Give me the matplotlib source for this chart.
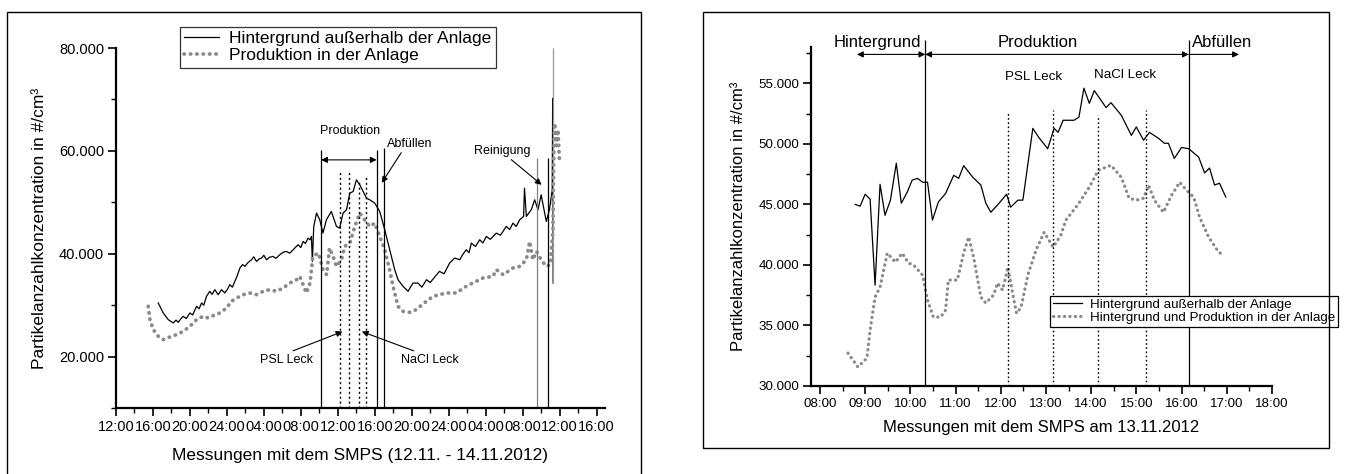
"""SMPS particle number concentration: two-day overview and production day detail."""
import matplotlib

matplotlib.use("Agg")

import matplotlib.pyplot as plt  # noqa: E402
from matplotlib.patches import Rectangle  # noqa: E402
from matplotlib.ticker import FixedLocator, MultipleLocator, FuncFormatter  # noqa: E402

plt.rcParams["font.family"] = ["Liberation Sans", "DejaVu Sans"]

# --------------------------------------------------------------------------- #
# Data, left panel: hours since 12.11.2012 12:00
# --------------------------------------------------------------------------- #
left_bg_hours = [
    4.57, 5.12, 5.66, 6.2, 6.5, 6.74, 7.0, 7.28, 7.6, 8.0, 8.3, 8.72, 9.0, 9.26,
    9.5, 9.8, 10.15, 10.4, 10.7, 11.06, 11.42, 11.78, 12.1, 12.32, 12.6, 12.86,
    13.1, 13.41, 13.7, 13.95, 14.3, 14.67, 14.9, 15.21, 15.5, 15.75, 16.0, 16.29,
    16.6, 17.0, 17.3, 17.73, 18.1, 18.45, 18.8, 19.17, 19.45, 19.71, 20.0, 20.25,
    20.5, 20.79, 21.0, 21.15, 21.25, 21.4, 21.7, 22.05, 22.4, 22.77, 23.3, 23.86,
    24.2, 24.57, 24.94, 25.3, 25.66, 26.02, 26.38, 26.74, 27.1, 27.46, 28.0,
    28.54, 29.08, 29.62, 30.16, 30.52, 31.06, 31.6, 32.14, 32.68, 33.1, 33.6,
    34.0, 34.5, 35.0, 35.5, 36.1, 36.65, 37.2, 37.5, 37.9, 38.2, 38.45, 38.9,
    39.35, 39.7, 40.07, 40.5, 41.15, 41.6, 42.23, 42.6, 42.95, 43.3, 43.68,
    44.1, 44.2, 44.4, 44.93, 45.3, 45.66, 46.0, 46.56, 46.9, 47.2, 47.25, 47.3,
]
left_bg_values = [
    30430, 28480, 27180, 26540, 27100, 26660, 27300, 27830, 27400, 28480, 28100,
    29770, 29300, 30430, 30000, 31720, 32690, 32100, 33010, 32040, 33010, 32370,
    33200, 33980, 33500, 34630, 35600, 37220, 37900, 37540, 38300, 38830, 39400,
    38510, 39000, 39160, 39700, 38830, 39300, 39480, 39100, 39810, 40300, 40450,
    40100, 40780, 41300, 41750, 41200, 42390, 42000, 43040, 42700, 43370, 38510,
    45300, 47900, 46600, 44020, 46600, 48220, 45310, 44990, 47900, 48540, 51780,
    52100, 54370, 53400, 52100, 50820, 50490, 49840, 48220, 44660, 40780, 36900,
    34950, 33660, 32690, 34300, 34300, 33500, 34950, 34400, 35500, 36570, 36100,
    38190, 39160, 38830, 39800, 40780, 40200, 42070, 41400, 42720, 42100, 43370,
    42800, 44010, 43600, 45310, 44700, 45950, 45300, 46600, 47250, 52750, 47250,
    48540, 50490, 48540, 51460, 46280, 48540, 52430, 70230, 34300,
]

left_prod_hours = [
    3.49, 3.68, 4.04, 4.58, 5.12, 5.84, 6.56, 7.28, 8.0, 8.72, 9.43, 9.98, 10.52,
    11.24, 11.97, 12.5, 13.05, 13.77, 14.49, 15.21, 15.93, 16.65, 17.37, 18.09,
    18.81, 19.53, 19.9, 20.6, 21.0, 21.3, 21.9, 22.4, 22.8, 23.1, 23.5, 23.86,
    24.4, 24.75, 25.3, 25.84, 26.38, 26.9, 27.46, 28.0, 28.54, 29.08, 29.6,
    29.98, 30.52, 31.06, 31.78, 32.5, 33.2, 34.3, 35.75, 36.8, 37.9, 38.6, 39.7,
    40.8, 41.15, 41.9, 42.95, 43.7, 44.4, 44.76, 45.1, 45.5, 46.0, 46.56, 46.99,
    47.28, 47.35, 47.46, 47.64, 47.82, 48.0,
]
left_prod_values = [
    29770, 27180, 25240, 23950, 23300, 23820, 24270, 24910, 25880, 27180, 27830,
    27510, 27960, 28480, 29450, 30740, 31390, 32040, 32370, 32040, 32690, 33010,
    32690, 33340, 34300, 34950, 35600, 32370, 34300, 39480, 40130, 36900, 35920,
    41100, 39480, 37540, 38830, 41420, 42070, 45300, 47900, 46600, 45300, 45950,
    43370, 40780, 36900, 33660, 29770, 28800, 28600, 29130, 30200, 31720, 32370,
    32370, 33660, 34300, 35270, 35600, 36900, 35920, 37220, 37540, 38830, 42390,
    38830, 40450, 38830, 37540, 37860, 44660, 57610, 65370, 61000, 64080, 57610,
]

# Two-day time ticks (every 4 h starting 12:00)
left_tick_hours = list(range(0, 53, 4))
left_tick_labels = [
    "12:00", "16:00", "20:00", "24:00", "04:00", "08:00", "12:00",
    "16:00", "20:00", "24:00", "04:00", "08:00", "12:00", "16:00",
]

# Event markers on the left panel
left_phase_hours = [22.2, 28.2, 29.0]           # Produktion start/end, Abfüllen
left_phase_tops = [60200, 60200, 60600]
left_leak_hours = [24.2, 25.2, 26.3, 27.1]      # PSL / NaCl leak markers
left_leak_tops = [56100, 56100, 54000, 55000]
left_clean_hours = [45.6, 46.7, 47.3]           # Reinigung markers
left_clean_tops = [58600, 58600, 80000]
left_clean_bottoms = [10000, 10000, 34300]
left_clean_colors = ["#808080", "black", "#9a9a9a"]

# --------------------------------------------------------------------------- #
# Data, right panel: clock hours on 13.11.2012
# --------------------------------------------------------------------------- #
right_bg_hours = [
    8.78, 8.89, 9.0, 9.11, 9.22, 9.33, 9.44, 9.56, 9.69, 9.8, 9.93, 10.04, 10.16,
    10.27, 10.38, 10.49, 10.62, 10.78, 10.96, 11.07, 11.18, 11.38, 11.56, 11.67,
    11.78, 11.93, 12.13, 12.22, 12.38, 12.49, 12.71, 12.84, 13.04, 13.18, 13.27,
    13.38, 13.62, 13.73, 13.84, 13.96, 14.07, 14.33, 14.44, 14.67, 14.89, 15.0,
    15.16, 15.29, 15.49, 15.62, 15.71, 15.84, 16.0, 16.16, 16.38, 16.51, 16.62,
    16.73, 16.84, 16.98,
]
right_bg_values = [
    45000, 44850, 45840, 45430, 38330, 46660, 44100, 45350, 48400, 45100, 46000,
    47000, 47150, 46830, 46830, 43700, 45200, 45900, 47400, 47150, 48200, 47250,
    46600, 45100, 44350, 44950, 45840, 44770, 45350, 45350, 51280, 50540, 49600,
    51280, 50950, 51950, 51950, 52200, 54600, 53350, 54400, 53000, 53400, 52350,
    50700, 51400, 50300, 50950, 50460, 50050, 50050, 48800, 49700, 49600, 48900,
    47600, 48000, 46600, 46750, 45600,
]

right_prod_hours = [
    8.62, 8.84, 9.04, 9.11, 9.22, 9.33, 9.49, 9.67, 9.82, 9.96, 10.07, 10.27,
    10.38, 10.51, 10.67, 10.78, 10.84, 11.04, 11.18, 11.29, 11.4, 11.56, 11.67,
    11.84, 11.93, 12.04, 12.16, 12.27, 12.35, 12.45, 12.6, 12.78, 12.96, 13.16,
    13.33, 13.44, 13.56, 13.73, 13.96, 14.16, 14.44, 14.67, 14.84, 15.0, 15.16,
    15.27, 15.4, 15.6, 15.78, 15.96, 16.11, 16.27, 16.4, 16.6, 16.82, 16.93,
]
right_prod_values = [
    32720, 31570, 32300, 34620, 37350, 38170, 40970, 40230, 40970, 40150, 40000,
    39160, 37100, 35690, 35690, 36270, 38750, 38750, 40970, 42300, 40640, 37350,
    36850, 37500, 38500, 37920, 39820, 37500, 36000, 36500, 39160, 41220, 42700,
    41470, 42460, 43700, 44270, 45100, 46420, 47820, 48230, 47240, 45510, 45350,
    45510, 46580, 45350, 44350, 45760, 46830, 46170, 45600, 43940, 42300, 41060,
    40800,
]

right_phase_hours = [10.33, 16.16]
right_leak_hours = [12.15, 13.16, 14.16, 15.22]
right_leak_tops = [52600, 52770, 52360, 52770]

GREY = "#8a8a8a"
DOTS = (0, (0.1, 1.6))


def style_axes(ax, tick_size):
    for side in ("top", "right"):
        ax.spines[side].set_visible(False)
    for side in ("left", "bottom"):
        ax.spines[side].set_linewidth(1.6)
    ax.tick_params(which="major", direction="out", length=5.5, width=1.2,
                   labelsize=tick_size, pad=3)
    ax.tick_params(which="minor", direction="out", length=3.5, width=1.0)


def add_frame(fig, x0, y0, x1, y1):
    """Draw a plain box in pixel coordinates (origin top left)."""
    w, h = 1356.0, 474.0
    fig.patches.append(Rectangle(
        (x0 / w, 1 - y1 / h), (x1 - x0) / w, (y1 - y0) / h,
        transform=fig.transFigure, fill=False, edgecolor="black", lw=1.0))


fig = plt.figure(figsize=(13.56, 4.74), dpi=100)
add_frame(fig, 7, 12, 641, 490)
add_frame(fig, 703, 12, 1329, 448)

# --------------------------------------------------------------------------- #
# Left panel
# --------------------------------------------------------------------------- #
ax1 = fig.add_axes([0.0855, 0.1392, 0.3606, 0.7595])
ax1.plot(left_bg_hours, left_bg_values, color="black", lw=0.9,
         label="Hintergrund außerhalb der Anlage")
ax1.plot(left_prod_hours, left_prod_values, color=GREY, lw=2.7, ls=DOTS,
         dash_capstyle="round", label="Produktion in der Anlage")

ax1.vlines(left_phase_hours, 10000, left_phase_tops, color="black", lw=0.9)
ax1.vlines(left_leak_hours, 10000, left_leak_tops, color="black", lw=1.0,
           linestyles=(0, (1.5, 2.0)))
ax1.vlines(left_clean_hours, left_clean_bottoms, left_clean_tops,
           colors=left_clean_colors, lw=0.9)

ax1.set_xlim(0, 52.9)
ax1.set_ylim(10000, 80000)
ax1.xaxis.set_major_locator(FixedLocator(left_tick_hours))
ax1.set_xticklabels(left_tick_labels)
ax1.xaxis.set_minor_locator(MultipleLocator(2))
ax1.yaxis.set_major_locator(MultipleLocator(20000))
ax1.yaxis.set_minor_locator(MultipleLocator(10000))
fmt = FuncFormatter(lambda v, _: f"{v / 1000:.3f}")
ax1.yaxis.set_major_formatter(fmt)
style_axes(ax1, 10.5)
ax1.set_xlabel("Messungen mit dem SMPS (12.11. - 14.11.2012)", fontsize=12.5,
               labelpad=10)
ax1.set_ylabel("Partikelanzahlkonzentration in #/cm³", fontsize=12.5,
               labelpad=9)

arrow = dict(arrowstyle="-|>", color="black", lw=0.8, mutation_scale=9,
             shrinkA=0, shrinkB=0)
ax1.annotate("", xy=(22.2, 58250), xytext=(28.2, 58250),
             arrowprops=dict(arrow, arrowstyle="<|-|>"))
ax1.text(25.3, 63900, "Produktion", ha="center", va="center", fontsize=9)
ax1.annotate("Abfüllen", xy=(28.76, 53790), xytext=(31.8, 61360),
             ha="center", va="center", fontsize=9,
             arrowprops=dict(arrow, relpos=(0.35, 0.0)))
ax1.annotate("Reinigung", xy=(46.05, 53400), xytext=(41.8, 60000),
             ha="center", va="center", fontsize=9,
             arrowprops=dict(arrow, relpos=(0.6, 0.0)))
ax1.annotate("PSL Leck", xy=(24.5, 24860), xytext=(18.4, 19420),
             ha="center", va="center", fontsize=9,
             arrowprops=dict(arrow, relpos=(0.5, 1.0)))
ax1.annotate("NaCl Leck", xy=(26.6, 24860), xytext=(33.95, 19420),
             ha="center", va="center", fontsize=9,
             arrowprops=dict(arrow, relpos=(0.35, 1.0)))

leg1 = ax1.legend(loc="upper left", bbox_to_anchor=(180 / 1356, 1 - 27 / 474),
                  bbox_transform=fig.transFigure, fontsize=12.5,
                  frameon=True, fancybox=False, borderpad=0.25,
                  labelspacing=0.1, handlelength=2.0, handletextpad=0.6,
                  borderaxespad=0)
leg1.get_frame().set_edgecolor("black")
leg1.get_frame().set_linewidth(0.9)

# --------------------------------------------------------------------------- #
# Right panel
# --------------------------------------------------------------------------- #
ax2 = fig.add_axes([0.598, 0.1857, 0.34, 0.7151])
ax2.plot(right_bg_hours, right_bg_values, color="black", lw=0.9,
         label="Hintergrund außerhalb der Anlage")
ax2.plot(right_prod_hours, right_prod_values, color=GREY, lw=2.3, ls=DOTS,
         dash_capstyle="round", label="Hintergrund und Produktion in der Anlage")

ax2.vlines(right_phase_hours, 30000, 58570, color="black", lw=0.9,
           clip_on=False)
ax2.vlines(right_leak_hours, 30000, right_leak_tops, color="black", lw=1.0,
           linestyles=(0, (1.2, 1.8)))

ax2.set_xlim(7.8, 18.0)
ax2.set_ylim(30000, 58000)
ax2.xaxis.set_major_locator(MultipleLocator(1))
ax2.xaxis.set_minor_locator(MultipleLocator(0.5))
ax2.xaxis.set_major_formatter(FuncFormatter(lambda v, _: f"{int(round(v)):02d}:00"))
ax2.yaxis.set_major_locator(MultipleLocator(5000))
ax2.yaxis.set_minor_locator(MultipleLocator(2500))
ax2.yaxis.set_major_formatter(fmt)
style_axes(ax2, 9.6)
ax2.set_xlabel("Messungen mit dem SMPS am 13.11.2012", fontsize=12,
               labelpad=7)
ax2.set_ylabel("Partikelanzahlkonzentration in #/cm³", fontsize=12,
               labelpad=9)

for x0, x1, style in [(8.82, 10.33, "<|-|>"), (10.33, 16.16, "<|-|>"),
                      (16.16, 17.27, "-|>")]:
    ax2.annotate("", xy=(x1, 57390), xytext=(x0, 57390),
                 arrowprops=dict(arrow, arrowstyle=style), annotation_clip=False)
ax2.text(9.27, 58380, "Hintergrund", ha="center", va="center", fontsize=12)
ax2.text(12.82, 58380, "Produktion", ha="center", va="center", fontsize=12)
ax2.text(16.9, 58380, "Abfüllen", ha="center", va="center", fontsize=12)
ax2.text(12.73, 55500, "PSL Leck", ha="center", va="center", fontsize=9.6)
ax2.text(14.76, 55660, "NaCl Leck", ha="center", va="center", fontsize=9.6)

leg2 = ax2.legend(loc="upper left", bbox_to_anchor=(1050 / 1356, 1 - 296 / 474),
                  bbox_transform=fig.transFigure, fontsize=9.6,
                  frameon=True, fancybox=False, borderpad=0.2,
                  labelspacing=0.05, handlelength=2.2, handletextpad=0.6,
                  borderaxespad=0)
leg2.get_frame().set_edgecolor("black")
leg2.get_frame().set_linewidth(0.9)
leg2.get_frame().set_alpha(1.0)

fig.savefig("out.png", dpi=100)
